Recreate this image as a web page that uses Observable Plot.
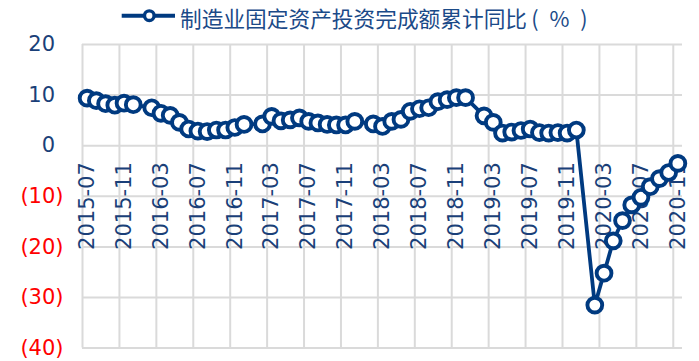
<!DOCTYPE html>
<html>
<head>
<meta charset="utf-8">
<script src="https://cdn.jsdelivr.net/npm/d3@7"></script>
<script src="https://cdn.jsdelivr.net/npm/@observablehq/plot@0.6"></script>
<style>
  html, body { margin: 0; padding: 0; background: #fff; }
  #wrap { width: 699px; height: 361px; position: relative; overflow: hidden; }
  #legend { position: relative; width: 699px; height: 30px; }
  #legend svg { position: absolute; left: 118px; top: 6px; }
  #legend span { position: absolute; left: 180px; top: 7px; font-family: "Noto Sans CJK SC", sans-serif; font-size: 21.7px; line-height: 1; color: #1B4A88; white-space: pre; }
</style>
</head>
<body>
<div id="wrap">
  <div id="legend">
    <svg width="62" height="20"><line x1="3.7" x2="57" y1="9.7" y2="9.7" stroke="#003A80" stroke-width="4"/><circle cx="31.3" cy="9.7" r="4.8" fill="#fff" stroke="#003A80" stroke-width="3.4"/></svg>
    <span id="title"></span>
  </div>
  <div id="chart"></div>
</div>
<script>
const seriesName = "制造业固定资产投资完成额累计同比\u2009(\u2002%\u2002)";

const months = [
  "2015-07","2015-08","2015-09","2015-10","2015-11","2015-12",
  "2016-02","2016-03","2016-04","2016-05","2016-06","2016-07","2016-08","2016-09","2016-10","2016-11","2016-12",
  "2017-02","2017-03","2017-04","2017-05","2017-06","2017-07","2017-08","2017-09","2017-10","2017-11","2017-12",
  "2018-02","2018-03","2018-04","2018-05","2018-06","2018-07","2018-08","2018-09","2018-10","2018-11","2018-12",
  "2019-02","2019-03","2019-04","2019-05","2019-06","2019-07","2019-08","2019-09","2019-10","2019-11","2019-12",
  "2020-02","2020-03","2020-04","2020-05","2020-06","2020-07","2020-08","2020-09","2020-10","2020-11"
];

const values = [
  9.4, 8.9, 8.3, 8.0, 8.4, 8.1,
  7.5, 6.4, 6.0, 4.6, 3.3, 2.9, 2.8, 3.1, 3.1, 3.6, 4.2,
  4.3, 5.8, 4.9, 5.1, 5.5, 4.8, 4.5, 4.2, 4.1, 4.1, 4.8,
  4.3, 3.8, 4.8, 5.2, 6.8, 7.3, 7.5, 8.7, 9.1, 9.5, 9.5,
  5.9, 4.6, 2.5, 2.7, 3.0, 3.3, 2.6, 2.5, 2.6, 2.5, 3.1,
  -31.5, -25.2, -18.8, -14.8, -11.7, -10.2, -8.1, -6.5, -5.3, -3.5
];

const tickLabels = [
  "2015-07","2015-11","2016-03","2016-07","2016-11","2017-03","2017-07","2017-11",
  "2018-03","2018-07","2018-11","2019-03","2019-07","2019-11","2020-03","2020-07","2020-11"
];

const yTicks = [20, 10, 0, -10, -20, -30, -40];

document.getElementById("title").textContent = seriesName;

// month slot index on a calendar (date) axis starting at the first month
const startY = 2015, startM = 7;
const idx = s => { const [y, m] = s.split("-").map(Number); return (y - startY) * 12 + (m - startM); };
const lastIdx = idx(months[months.length - 1]);

const data = months.map((m, i) => ({ i: idx(m), v: values[i] }));

const navy = "#003A80";
const labelColor = "#1A3F78";
const grid = "#DADADA";

const chart = Plot.plot({
  width: 699,
  height: 331,
  marginLeft: 82,
  marginRight: 17,
  marginTop: 14,
  marginBottom: 13.4,
  x: { type: "linear", domain: [-0.5, lastIdx + 0.5], axis: null },
  y: { domain: [-40, 20], axis: null },
  style: { overflow: "visible", background: "transparent" },
  marks: [
    Plot.ruleY(yTicks, { y: d => d, stroke: grid, strokeWidth: 2 }),
    Plot.ruleX(tickLabels, { x: d => idx(d) - 0.5, stroke: grid, strokeWidth: 2 }),
    Plot.text(yTicks.filter(d => d >= 0), {
      frameAnchor: "left", y: d => d, text: d => String(d),
      textAnchor: "end", dx: -27.5, fontSize: 21, fontFamily: "DejaVu Sans", fill: labelColor
    }),
    Plot.text(yTicks.filter(d => d < 0), {
      frameAnchor: "left", y: d => d, text: d => `(${-d})`,
      textAnchor: "end", dx: -19, fontSize: 21, fontFamily: "DejaVu Sans", fill: "#FF0000"
    }),
    Plot.text(tickLabels, {
      x: d => idx(d), y: () => 0, text: d => d, rotate: -90, textAnchor: "end",
      dy: 16.5, fontSize: 21, fontFamily: "DejaVu Sans", fill: labelColor
    }),
    Plot.line(data, { x: "i", y: "v", stroke: navy, strokeWidth: 3.8, strokeLinejoin: "round" }),
    Plot.dot(data, { x: "i", y: "v", r: 7.4, stroke: navy, strokeWidth: 3.9, fill: "white" })
  ]
});
document.getElementById("chart").appendChild(chart);
</script>
</body>
</html>
